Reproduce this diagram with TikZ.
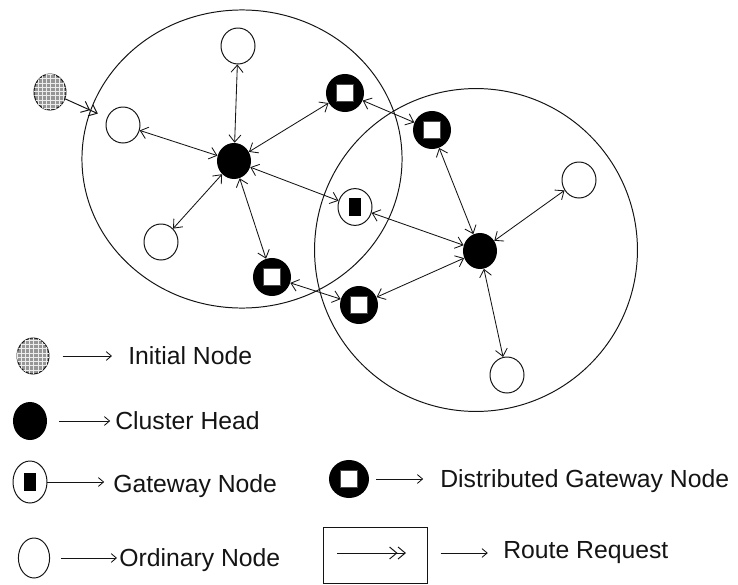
\documentclass[tikz,border=0pt]{standalone}
\usepackage{fontspec}
\setmainfont{Liberation Sans}
\usepackage{tikz}
\usetikzlibrary{shapes.geometric, arrows.meta, positioning, patterns}
\definecolor{nodeink}{RGB}{20, 20, 20}
\definecolor{initgray}{RGB}{150, 150, 150}
\tikzset{
  ordnode/.style={ellipse, draw=nodeink, fill=white, line width=0.7pt,
                  minimum width=0.85cm, minimum height=0.9cm, inner sep=0pt},
  headnode/.style={ellipse, fill=black, minimum width=0.85cm, minimum height=0.9cm, inner sep=0pt},
  initnode/.style={ellipse, draw=nodeink, fill=initgray, line width=0.7pt,
                   minimum width=0.8cm, minimum height=0.9cm, inner sep=0pt,
                   postaction={pattern=grid, pattern color=white!85!gray}},
  dgwnode/.style={ellipse, fill=black, minimum width=0.95cm, minimum height=0.95cm, inner sep=0pt,
                  path picture={\filldraw[fill=white, draw=black!70]
                    ([shift={(-0.21cm,-0.21cm)}]path picture bounding box.center) rectangle
                    ([shift={(0.21cm,0.21cm)}]path picture bounding box.center);}},
  gwnode/.style={ellipse, draw=nodeink, fill=white, line width=0.7pt,
                 minimum width=0.85cm, minimum height=0.92cm, inner sep=0pt,
                 path picture={\fill[black]
                    ([shift={(-0.15cm,-0.22cm)}]path picture bounding box.center) rectangle
                    ([shift={(0.15cm,0.22cm)}]path picture bounding box.center);}},
  cluster/.style={ellipse, draw=nodeink, line width=0.7pt, inner sep=0pt},
  link/.style={{Straight Barb[length=1.8mm, width=3mm]}-{Straight Barb[length=1.8mm, width=3mm]},
               line width=0.6pt, color=nodeink},
  rreq/.style={-{Straight Barb[length=1.8mm, width=3mm] Straight Barb[length=1.8mm, width=3mm]},
               line width=0.7pt, color=nodeink},
  legarrow/.style={-{Straight Barb[length=1.3mm, width=2.2mm]}, line width=0.6pt, color=nodeink},
  legtext/.style={anchor=west, inner sep=0pt, font=\fontsize{17.6}{21}\selectfont, color=nodeink},
}

\begin{document}
\begin{tikzpicture}[x=0.025cm, y=-0.025cm]
  \useasboundingbox (0,0) rectangle (738,585);

  % Clusters
  \node[cluster, minimum width=8.0cm, minimum height=7.45cm] (clusterA) at (242,159) {};
  \node[cluster, minimum width=8.07cm, minimum height=8.07cm] (clusterB) at (476,250) {};

  % Cluster A nodes
  \node[headnode] (headA) at (234,161) {};
  \node[ordnode] (ordA1) at (123,125) {};
  \node[ordnode] (ordA2) at (238,46) {};
  \node[ordnode] (ordA3) at (161,242) {};
  \node[dgwnode] (dgwA1) at (345,93) {};
  \node[gwnode] (gw) at (355,207) {};
  \node[dgwnode] (dgwA2) at (272,277) {};
  \node[initnode] (init) at (50,92) {};

  % Cluster B nodes
  \node[headnode] (headB) at (480,251) {};
  \node[dgwnode] (dgwB1) at (432,130) {};
  \node[dgwnode] (dgwB2) at (359,305) {};
  \node[ordnode] (ordB1) at (579,180) {};
  \node[ordnode] (ordB2) at (507,375) {};

  % Links
  \draw[rreq, shorten >=0.25cm] (init) -- (ordA1);
  \draw[link] (headA) -- (ordA1);
  \draw[link] (headA) -- (ordA2);
  \draw[link] (headA) -- (ordA3);
  \draw[link] (headA) -- (dgwA1);
  \draw[link] (headA) -- (gw);
  \draw[link] (headA) -- (dgwA2);
  \draw[link] (dgwA1) -- (dgwB1);
  \draw[link] (dgwA2) -- (dgwB2);
  \draw[link] (headB) -- (dgwB1);
  \draw[link] (headB) -- (gw);
  \draw[link] (headB) -- (dgwB2);
  \draw[link] (headB) -- (ordB1);
  \draw[link] (headB) -- (ordB2);

  % Legend
  \node[initnode] (legInit) at (33,356) {};
  \node[legtext] (txtInit) at (128,356) {Initial Node};
  \draw[legarrow, shorten <=0.33cm, shorten >=0.4cm] (legInit) -- (txtInit);

  \node[headnode, minimum height=0.95cm] (legHead) at (30,421) {};
  \node[legtext] (txtHead) at (115,421) {Cluster Head};
  \draw[legarrow, shorten <=0.3cm, shorten >=0.12cm] (legHead) -- (txtHead);

  \node[gwnode, minimum height=1.05cm] (legGw) at (30,482) {};
  \node[legtext] (txtGw) at (113,486) {Gateway Node};
  \draw[legarrow, shorten >=0.22cm] (legGw) -- (legGw -| txtGw.west);

  \node[ordnode, minimum width=0.78cm, minimum height=1.0cm] (legOrd) at (34,558) {};
  \node[legtext] (txtOrd) at (119,560) {Ordinary Node};
  \draw[legarrow, shorten <=0.27cm, shorten >=0.05cm] (legOrd) -- (legOrd -| txtOrd.west);

  \node[dgwnode, minimum width=1.0cm] (legDgw) at (349,479) {};
  \node[legtext] (txtDgw) at (440,481) {Distributed Gateway Node};
  \draw[legarrow, shorten <=0.18cm, shorten >=0.42cm] (legDgw) -- (legDgw -| txtDgw.west);

  \node[draw=nodeink, line width=0.7pt, minimum width=2.575cm, minimum height=1.4cm] (legBox) at (375.5,555) {};
  \coordinate (rrTail) at (337,553);
  \coordinate (rrTip) at (406,553);
  \draw[rreq] (rrTail) -- (rrTip);
  \node[legtext] (txtReq) at (503,553) {Route Request};
  \draw[legarrow, shorten <=0.33cm, shorten >=0.38cm] (legBox.east |- txtReq) -- (txtReq);
\end{tikzpicture}
\end{document}
